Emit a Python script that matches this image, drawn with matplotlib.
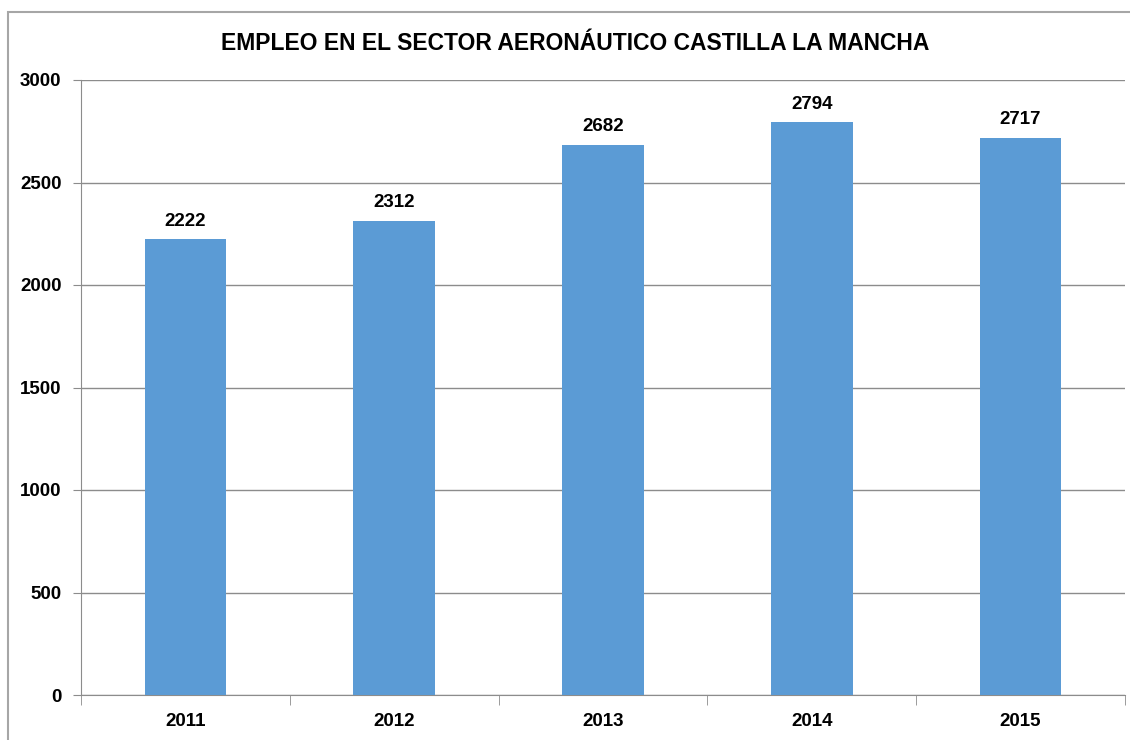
import numpy as np
import matplotlib.pyplot as plt
from matplotlib.patches import Rectangle

# datos del grafico
years = ['2011', '2012', '2013', '2014', '2015']
empleo = [2222, 2312, 2682, 2794, 2717]

plt.rcParams['font.family'] = ['Liberation Sans', 'DejaVu Sans']

fig = plt.figure(figsize=(11.3, 7.4), dpi=100)
ax = fig.add_axes([81/1130, 1 - 695/740, (1125 - 81)/1130, (695 - 80)/740])

x = np.arange(len(years))
bars = ax.bar(x, empleo, width=0.39, color='#5B9BD5', zorder=3)

# etiquetas de valor encima de cada barra
for xi, v in zip(x, empleo):
    ax.annotate(str(v), (xi, v), xytext=(0, 7), textcoords='offset points',
                ha='center', va='bottom', fontsize=13.5, fontweight='bold')

ax.set_xlim(-0.5, len(years) - 0.5)
ax.set_ylim(0, 3000)
ax.set_yticks(np.arange(0, 3001, 500))
ax.set_yticklabels([str(t) for t in range(0, 3001, 500)], fontsize=13.5, fontweight='bold')
ax.yaxis.grid(True, color='#8c8c8c', linewidth=1, zorder=0)

# ticks del eje x entre categorias
ax.set_xticks(x)
ax.set_xticklabels(years, fontsize=13.5, fontweight='bold')
ax.set_xticks(np.arange(-0.5, len(years)), minor=True)
ax.tick_params(axis='x', which='major', length=0, pad=13)
ax.tick_params(axis='x', which='minor', length=7, color='#8c8c8c')
ax.tick_params(axis='y', length=6, color='#8c8c8c', pad=8)

for s in ['top', 'right']:
    ax.spines[s].set_visible(False)
for s in ['left', 'bottom']:
    ax.spines[s].set_color('#8c8c8c')

fig.text(575/1130, 1 - 44/740, 'EMPLEO EN EL SECTOR AERONÁUTICO CASTILLA LA MANCHA',
         ha='center', va='center', fontsize=16.5, fontweight='bold')

# marco del grafico
fig.patches.append(Rectangle((8/1130, -0.1), 1.2, 1 - 12/740 + 0.1,
                             transform=fig.transFigure, fill=False,
                             edgecolor='#a6a6a6', linewidth=1.5))

fig.savefig('out.png', dpi=100)
